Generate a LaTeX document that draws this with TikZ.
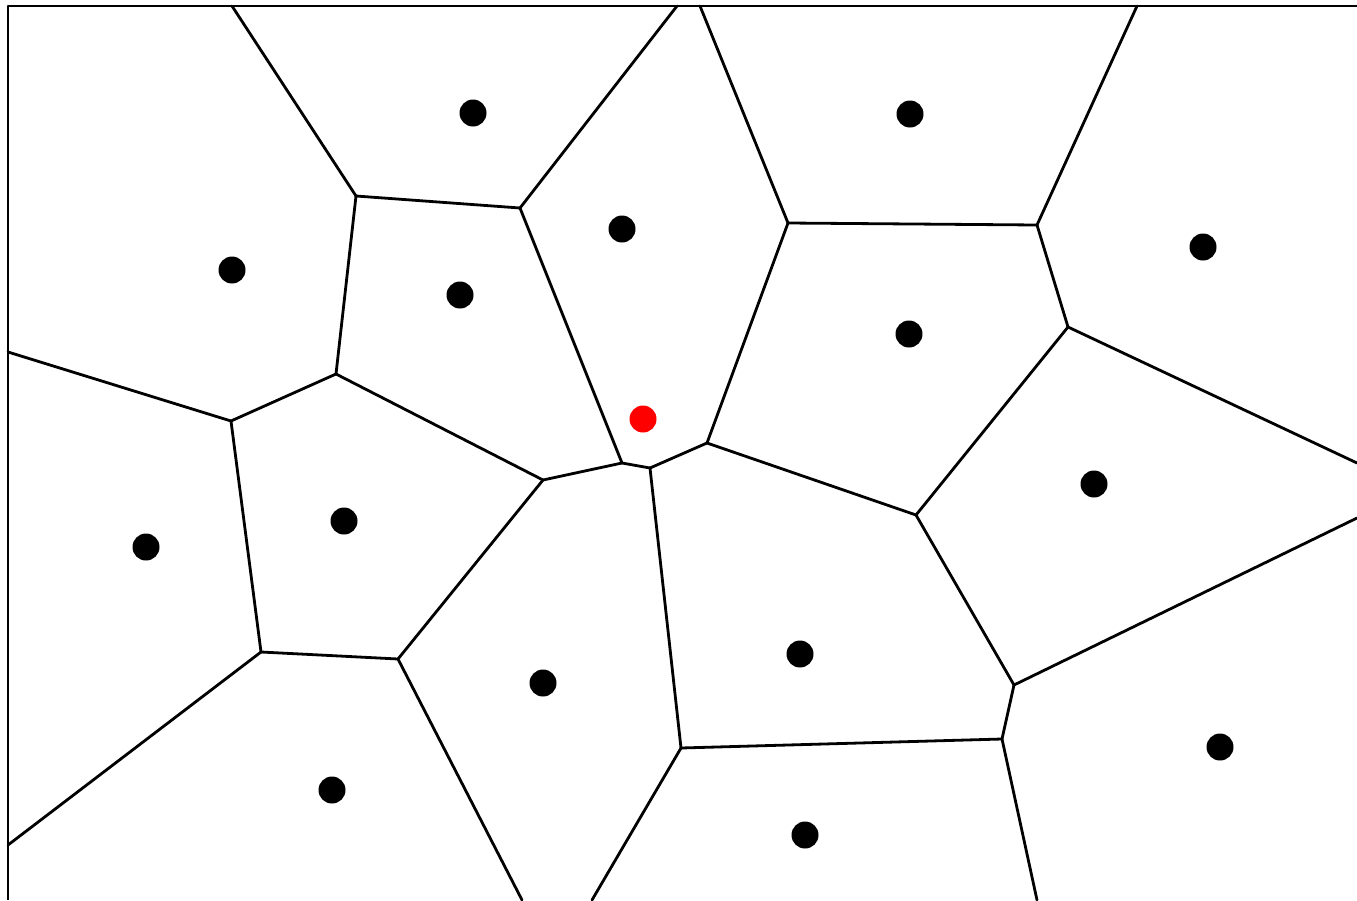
\documentclass[tikz,border=0pt]{standalone}
\usepackage{tikz}
\usetikzlibrary{positioning}
\definecolor{vdInk}{HTML}{000000}
\definecolor{vdRed}{HTML}{FF0000}
\tikzset{
  cell/.style={line width=2.8pt, draw=vdInk, line join=round, line cap=round},
  site/.style={circle, fill=vdInk, inner sep=0pt, minimum size=27pt},
  query/.style={site, fill=vdRed},
}

\begin{document}
\begin{tikzpicture}[x=1pt, y=-1pt]
  \useasboundingbox (0,0) rectangle (1357,900);
  % frame (only top and left are visible)
  \draw[cell, line cap=butt] (8,900) -- (8,6) -- (1357,6);
  % vertices of the cells
  \coordinate (a) at (356,196);
  \coordinate (b) at (520,208);
  \coordinate (c) at (788,223);
  \coordinate (d) at (1037,225);
  \coordinate (e) at (1068,327);
  \coordinate (f) at (336,374);
  \coordinate (g) at (231,421);
  \coordinate (h) at (707,443);
  \coordinate (i) at (622,463);
  \coordinate (j) at (650,468);
  \coordinate (k) at (543,480);
  \coordinate (l) at (916,515);
  \coordinate (m) at (261,652);
  \coordinate (n) at (398,659);
  \coordinate (o) at (1014,685);
  \coordinate (p) at (1002,739);
  \coordinate (q) at (681,748);
  % edges that run out to the border
  \coordinate (t1) at (232,6);
  \coordinate (t2) at (677,6);
  \coordinate (t3) at (700,6);
  \coordinate (t4) at (1137,6);
  \coordinate (r1) at (1357,463);
  \coordinate (r2) at (1357,518);
  \coordinate (l1) at (8,352);
  \coordinate (l2) at (8,845);
  \coordinate (b1) at (522,900);
  \coordinate (b2) at (592,900);
  \coordinate (b3) at (1037,900);
  \foreach \u/\v in {t1/a, a/b, b/t2, t3/c, b/i, c/d, d/t4, d/e, e/r1, c/h,
                     a/f, l1/g, g/f, f/k, k/i, i/j, j/h, h/l, l/e, l/o,
                     o/r2, o/p, p/q, p/b3, j/q, q/b2, k/n, n/m, n/b1, m/g, m/l2}
    \draw[cell] (\u) -- (\v);
  % sites
  \foreach \x/\y [count=\s] in {473/113, 910/114, 232/270, 622/229, 460/295,
                                1203/247, 909/334, 1094/484, 344/521, 146/547,
                                543/683, 800/654, 1220/747, 332/790, 805/835}
    \node[site] (s\s) at (\x,\y) {};
  \node[query] (q0) at (643,419) {};
\end{tikzpicture}
\end{document}
